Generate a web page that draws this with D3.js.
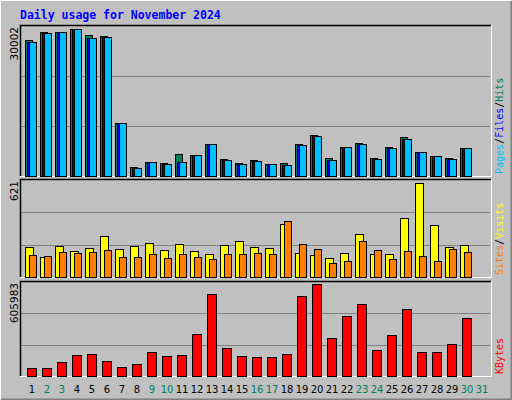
<!DOCTYPE html>
<html><head><meta charset="utf-8">
<script src="https://cdn.jsdelivr.net/npm/d3@7"></script>
<style>body{margin:0;background:#fff}</style>
</head><body>
<script>
// Daily usage values
var days = d3.range(1, 31);
var hits   = [27200,28740,28740,29340,28200,28000,10540,1800,2800,2540,4340,4200,6400,3400,2540,3200,2340,2540,6340,8140,3600,5800,6600,3600,5800,7800,4740,4000,3600,5600];
var files  = [26900,28600,28740,29340,27700,27800,10540,1600,2760,2400,2740,4200,6400,3200,2400,3000,2340,2200,6200,8000,3200,5760,6400,3400,5600,7400,4740,3960,3400,5600];
var pages  = [26740,28540,28740,29340,27540,27740,10540,1540,2740,2340,2740,4200,6400,3140,2340,2940,2340,2140,6140,7940,3140,5740,6340,3340,5540,7340,4740,3940,3340,5600];
var visits = [192,127,199,166,186,263,179,199,218,173,212,166,147,205,231,192,186,341,153,140,121,153,276,147,147,380,600,334,192,205];
var sites  = [140,134,160,153,160,173,127,127,147,121,147,127,115,147,147,153,147,360,212,179,89,102,231,173,115,166,134,102,179,160];
var kbytes = [51600,51600,90300,135400,141800,96700,58000,77400,154700,128900,135400,270800,528700,180500,128900,122500,122500,141800,515800,593100,245000,386800,464200,167600,264300,431900,154700,154700,206300,373900];
var maxHits = 30002, maxVisits = 621, maxKB = 605983;
var labelDays = d3.range(1, 32);
var weekend = [2,3,9,10,16,17,23,24,30,31];

var W = 512, H = 400;
var svg = d3.select("body").append("svg").attr("width", W).attr("height", H)
  .style("font-family", "'DejaVu Sans Mono', monospace");

// frame
svg.append("rect").attr("width", W).attr("height", H).attr("fill", "#c0c0c0");
svg.append("path").attr("d", "M0.5,399.5V0.5H511.5").attr("stroke", "#fff").attr("fill", "none");
svg.append("path").attr("d", "M1,399.5H511.5V1").attr("stroke", "#808080").attr("fill", "none").attr("stroke-width", 2);

svg.append("text").attr("x", 20).attr("y", 19).text("Daily usage for November 2024")
  .attr("fill", "#0000ff").attr("font-weight", "bold").attr("font-size", 11.5);

var x = d3.scaleLinear().domain([1, 31]).range([25, 475]);

function panel(y0, y1, max, label, labelParts) {
  var g = svg.append("g");
  g.append("rect").attr("x", 20).attr("y", y0).attr("width", 471).attr("height", y1 - y0).attr("fill", "#c0c0c0");
  var y = d3.scaleLinear().domain([0, max]).range([y1, y0 + 1]);
  [1/3, 2/3].forEach(function(f) {
    g.append("line").attr("x1", 21).attr("x2", 490).attr("y1", Math.round(y(max * f)) + 0.5).attr("y2", Math.round(y(max * f)) + 0.5)
      .attr("stroke", "#808080");
  });
  g.append("path").attr("d", "M20.5," + y1 + "V" + (y0 + 0.5) + "H491").attr("stroke", "#000").attr("fill", "none").attr("stroke-width", 1.5);
  g.append("path").attr("d", "M20," + (y1 + 0.5) + "H491.5V" + y0).attr("stroke", "#fff").attr("fill", "none");
  g.append("text").attr("transform", "translate(18," + (y0 + 2) + ") rotate(-90)")
    .attr("text-anchor", "end").attr("font-size", 10.5).attr("font-family", "'DejaVu Sans', sans-serif").text(label);
  var t = g.append("text").attr("transform", "translate(503," + (y1 - 2) + ") rotate(-90)")
    .attr("font-size", 10);
  labelParts.forEach(function(p) { t.append("tspan").attr("fill", p[1]).text(p[0]); });
  return {g: g, y: y};
}

function bars(p, data, dx, w, color, y1) {
  p.g.selectAll(null).data(data).enter().append("rect")
    .attr("x", function(d, i) { return x(days[i]) + dx + 0.5; })
    .attr("y", function(d) { return Math.round(p.y(d)) + 0.5; })
    .attr("width", w)
    .attr("height", function(d) { return y1 - Math.round(p.y(d)); })
    .attr("fill", color).attr("stroke", "#000");
}

var p1 = panel(25, 176, maxHits, "30002", [["Pages", "#00c0ff"], ["/", "#000"], ["Files", "#0000ff"], ["/", "#000"], ["Hits", "#00805c"]]);
bars(p1, hits, 0, 7, "#00805c", 176);
bars(p1, files, 2, 7, "#0000ff", 176);
bars(p1, pages, 4, 7, "#00c0ff", 176);

var p2 = panel(179, 277, maxVisits, "621", [["Sites", "#ff8000"], ["/", "#000"], ["Visits", "#ffff00"]]);
bars(p2, visits, 0, 8, "#ffff00", 277);
bars(p2, sites, 4, 7, "#ff8000", 277);

var p3 = panel(281, 376, maxKB, "605983", [["KBytes", "#ff0000"]]);
bars(p3, kbytes, 2, 9, "#ff0000", 376);

svg.selectAll(".day").data(labelDays).enter().append("text")
  .attr("x", function(d) { return x(d) + 7; }).attr("y", 393)
  .attr("text-anchor", "middle").attr("font-size", 10).attr("font-family", "'DejaVu Sans', sans-serif")
  .attr("fill", function(d) { return weekend.indexOf(d) >= 0 ? "#00805c" : "#000"; })
  .text(function(d) { return d; });
</script>
</body></html>
